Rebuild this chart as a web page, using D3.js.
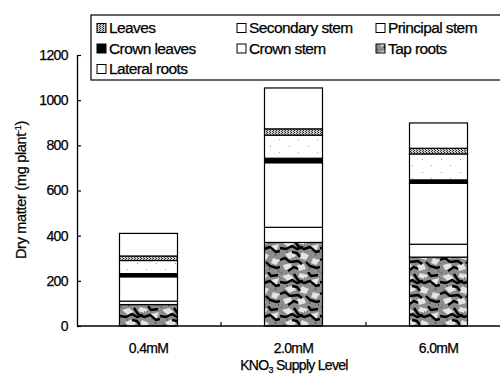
<!DOCTYPE html>
<html>
<head>
<meta charset="utf-8">
<script src="https://cdn.jsdelivr.net/npm/d3@7"></script>
<style>
  body { margin: 0; background: #fff; }
  svg { display: block; font-family: "Liberation Sans", Arial, sans-serif; }
  svg text { stroke: #000; stroke-width: 0.25px; }
</style>
</head>
<body>
<svg id="chart" width="500" height="378"></svg>
<script>
// values (mg plant-1), stacked bottom to top
const categories = ["0.4mM", "2.0mM", "6.0mM"];
const tapRoots = [95, 370, 305];
const lateralRoots = [15, 67, 57];
const principalStem = [108, 286, 270];
const crownLeaves = [14, 20, 15];
const crownStem = [58, 102, 115];
const leaves = [20, 28, 25];
const secondaryStem = [100, 181, 112];
const yTicks = [0, 200, 400, 600, 800, 1000, 1200];

// legend reads row by row, three columns
const legendOrder = ["Leaves", "Secondary stem", "Principal stem", "Crown leaves", "Crown stem", "Tap roots", "Lateral roots"];

const series = [
    {name: "Tap roots", values: tapRoots, fill: "url(#texture)"},
    {name: "Lateral roots", values: lateralRoots, fill: "#fff"},
    {name: "Principal stem", values: principalStem, fill: "#fff"},
    {name: "Crown leaves", values: crownLeaves, fill: "#000"},
    {name: "Crown stem", values: crownStem, fill: "url(#dots)"},
    {name: "Leaves", values: leaves, fill: "url(#checks)"},
    {name: "Secondary stem", values: secondaryStem, fill: "#fff"},
];

const table = categories.map((c, i) => {
    const row = {cat: c};
    series.forEach(s => row[s.name] = s.values[i]);
    return row;
});

const svg = d3.select("#chart");
const defs = svg.append("defs");

// rough scanned texture for the tap roots
const tex = defs.append("pattern").attr("id", "texture")
    .attr("patternUnits", "userSpaceOnUse").attr("width", 40).attr("height", 34);
tex.append("rect").attr("width", 40).attr("height", 34).attr("fill", "#8c8c8c");
const blobs = [
    "M2 4 L9 2 L14 6 L8 9 Z", "M20 1 L28 3 L25 7 L18 5 Z", "M31 8 L39 6 L37 12 L30 12 Z",
    "M5 16 L13 13 L16 18 L9 21 Z", "M22 14 L29 17 L26 22 L19 20 Z", "M33 20 L40 22 L36 27 L31 25 Z",
    "M3 27 L11 25 L12 31 L5 32 Z", "M17 27 L24 26 L26 31 L19 33 Z"
];
tex.selectAll(null).data(blobs).join("path").attr("d", d => d).attr("fill", "#e4e4e4");
const streaks = [
    "M0 10 L6 11 L12 8 L17 11 L23 9", "M14 2 L18 8 L24 11 L30 9 L36 14 L40 13",
    "M0 22 L5 20 L10 24 L18 23 L22 26", "M26 24 L30 28 L37 30 L40 29",
    "M8 33 L14 29 L18 31", "M28 0 L31 4 L38 3", "M12 14 L17 15 L20 19"
];
tex.selectAll(null).data(streaks).join("path").attr("d", d => d)
    .attr("fill", "none").attr("stroke", "#000").attr("stroke-width", 2.4).attr("stroke-linejoin", "round");
tex.append("path").attr("d", "M1 1 h1 M7 14 h1 M24 6 h1 M35 17 h1 M15 24 h1 M29 31 h1 M3 19 h1 M38 33 h1")
    .attr("stroke", "#222").attr("stroke-width", 1);

const dots = defs.append("pattern").attr("id", "dots")
    .attr("patternUnits", "userSpaceOnUse").attr("width", 19).attr("height", 13);
dots.append("rect").attr("width", 19).attr("height", 13).attr("fill", "#fff");
dots.append("rect").attr("x", 4).attr("y", 3).attr("width", 1).attr("height", 1).attr("fill", "#999");
dots.append("rect").attr("x", 13).attr("y", 9).attr("width", 1).attr("height", 1).attr("fill", "#aaa");

const checks = defs.append("pattern").attr("id", "checks")
    .attr("patternUnits", "userSpaceOnUse").attr("width", 3).attr("height", 2);
checks.append("rect").attr("width", 3).attr("height", 2).attr("fill", "#ccc");
checks.append("rect").attr("width", 1).attr("height", 1).attr("fill", "#222");
checks.append("rect").attr("x", 2).attr("y", 1).attr("width", 1).attr("height", 1).attr("fill", "#444");

const x = d3.scaleBand().domain(categories).range([76, 511]).paddingInner(0.6).paddingOuter(0.3);
const y = d3.scaleLinear().domain([0, 1200]).range([326, 55]);

const stack = d3.stack().keys(series.map(s => s.name));
const layers = stack(table);

const g = svg.append("g");
layers.forEach((layer, li) => {
    g.selectAll(null)
        .data(layer)
        .join("rect")
        .attr("x", d => x(d.data.cat))
        .attr("y", d => y(d[1]))
        .attr("width", x.bandwidth())
        .attr("height", d => y(d[0]) - y(d[1]))
        .attr("fill", series[li].fill)
        .attr("stroke", "#000")
        .attr("stroke-width", 1.2);
});

// y axis, ticks pointing into the plot
const yAxis = svg.append("g")
    .attr("transform", "translate(77,0)")
    .call(d3.axisLeft(y).tickValues(yTicks).tickFormat(d3.format("d"))
        .tickSizeInner(-4).tickSizeOuter(0).tickPadding(9));
yAxis.select(".domain").attr("stroke", "#000").attr("stroke-width", 1.3);
yAxis.selectAll("line").attr("stroke", "#000").attr("stroke-width", 1.2);
yAxis.selectAll("text").attr("font-size", 14).attr("fill", "#000").attr("letter-spacing", -0.6);

// x axis: labels under bars, small ticks between categories
svg.append("line").attr("x1", 77).attr("x2", 500).attr("y1", 326).attr("y2", 326)
    .attr("stroke", "#000").attr("stroke-width", 1.5);
const xAxis = svg.append("g")
    .attr("transform", "translate(0,326)")
    .call(d3.axisBottom(x).tickSize(0).tickPadding(17));
xAxis.select(".domain").remove();
xAxis.selectAll("text").attr("font-size", 14).attr("fill", "#000").attr("letter-spacing", -0.7);
svg.selectAll(null)
    .data(categories.slice(1))
    .join("line")
    .attr("x1", d => x(d) - x.step() * x.paddingInner() / 2)
    .attr("x2", d => x(d) - x.step() * x.paddingInner() / 2)
    .attr("y1", 326).attr("y2", 322)
    .attr("stroke", "#000").attr("stroke-width", 1.2);

// axis titles
const yt = svg.append("text")
    .attr("transform", "translate(26,190) rotate(-90)")
    .attr("text-anchor", "middle")
    .attr("font-size", 14.5).attr("letter-spacing", -0.3).attr("fill", "#000");
yt.append("tspan").text("Dry matter (mg plant");
yt.append("tspan").attr("dy", -5).attr("font-size", 9).text("-1");
yt.append("tspan").attr("dy", 5).text(")");

const xt = svg.append("text")
    .attr("x", 294).attr("y", 370)
    .attr("text-anchor", "middle")
    .attr("font-size", 14).attr("letter-spacing", -0.7).attr("fill", "#000");
xt.append("tspan").text("KNO");
xt.append("tspan").attr("dy", 3).attr("font-size", 9).text("3");
xt.append("tspan").attr("dy", -3).text(" Supply Level");

// legend
svg.append("rect").attr("x", 91).attr("y", 15).attr("width", 420).attr("height", 65)
    .attr("fill", "#fff").attr("stroke", "#000").attr("stroke-width", 1.2);
const colX = [97, 237, 376];
const rowY = [28, 48.5, 69];
const leg = svg.append("g").selectAll("g")
    .data(legendOrder)
    .join("g")
    .attr("transform", (d, i) => `translate(${colX[i % 3]},${rowY[Math.floor(i / 3)]})`);
leg.append("rect")
    .attr("x", 0).attr("y", -4.5).attr("width", 9).attr("height", 9)
    .attr("fill", d => series.find(s => s.name === d).fill)
    .attr("stroke", "#000").attr("stroke-width", 1);
leg.append("text")
    .attr("x", 12).attr("dy", "0.35em")
    .attr("font-size", 15.5).attr("letter-spacing", -0.6).attr("fill", "#000")
    .text(d => d);
</script>
</body>
</html>
